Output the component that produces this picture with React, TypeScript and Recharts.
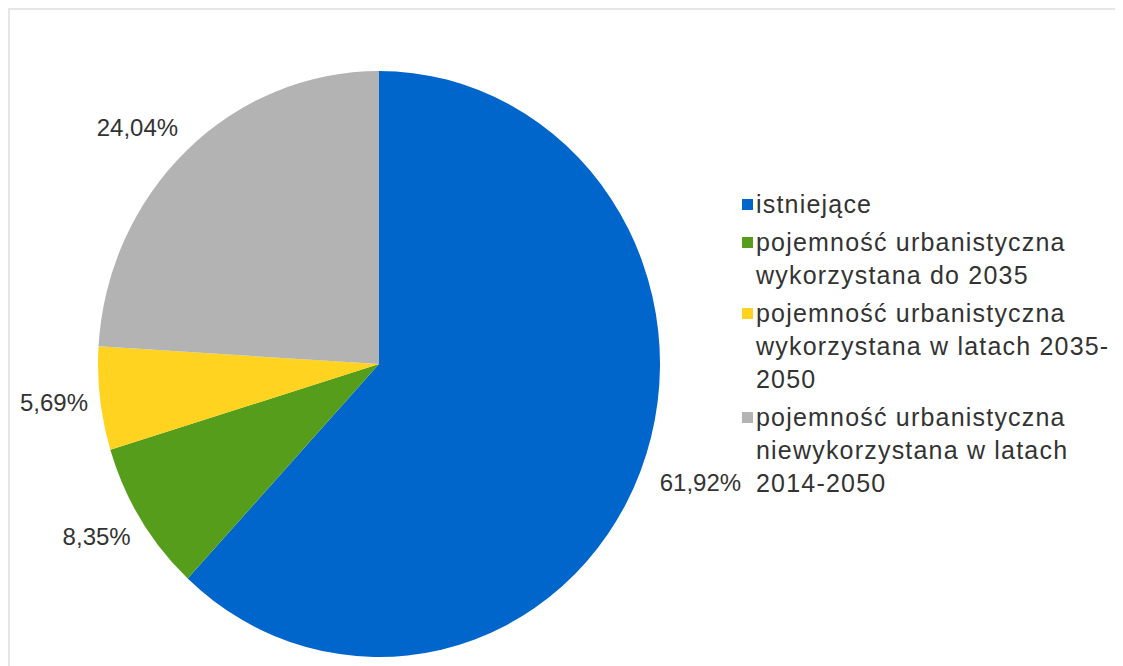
import { PieChart, Pie, Cell, Legend, Sector } from 'recharts';

const names = [
  'istniejące',
  'pojemność urbanistyczna\nwykorzystana do 2035',
  'pojemność urbanistyczna\nwykorzystana w latach 2035-\n2050',
  'pojemność urbanistyczna\nniewykorzystana w latach\n2014-2050',
];
const values = [61.92, 8.35, 5.69, 24.04];
const colors = ['#0066cc', '#579d1c', '#ffd320', '#b3b3b3'];

const data = names.map((name, i) => ({ name, value: values[i] }));

const RX = 281;
const SY = 293 / 281;
const FONT = '"Liberation Sans", Arial, sans-serif';

// pie in the reference is slightly stretched vertically
const EllipseSector = (props: any) => {
  const { cx, cy } = props;
  return (
    <g transform={`translate(${cx} ${cy}) scale(1 ${SY}) translate(${-cx} ${-cy})`}>
      <Sector {...props} />
    </g>
  );
};

const renderLabel = (props: any) => {
  const { cx, cy, midAngle, value } = props;
  const rad = (midAngle * Math.PI) / 180;
  const c = Math.cos(rad);
  const s = Math.sin(rad);
  const x = cx + 293 * c + (c >= 0 ? 8 : 0);
  const y = cy - 325 * s;
  return (
    <text
      x={x}
      y={y}
      textAnchor={c >= 0 ? 'start' : 'end'}
      dominantBaseline="central"
      fill="#333"
      fontSize={24}
      fontFamily={FONT}
    >
      {value.toFixed(2).replace('.', ',')}%
    </text>
  );
};

const renderLegend = () => (
  <div style={{ fontFamily: FONT, fontSize: 25, letterSpacing: 1.2, lineHeight: '33px', color: '#333' }}>
    {names.map((n, i) => (
      <div key={n} style={{ position: 'relative', paddingLeft: 14, marginBottom: 5, whiteSpace: 'pre-line' }}>
        <span
          style={{
            position: 'absolute',
            left: 0,
            top: 11,
            width: 11,
            height: 11,
            background: colors[i],
          }}
        />
        {n}
      </div>
    ))}
  </div>
);

export default function App() {
  return (
    <div
      style={{
        width: 1113,
        height: 656,
        borderTop: '2px solid #e6e6e6',
        borderLeft: '2px solid #e6e6e6',
        background: '#fff',
      }}
    >
      <PieChart width={1111} height={654} margin={{ top: 0, right: 0, bottom: 0, left: 0 }}>
        <Pie
          data={data}
          dataKey="value"
          nameKey="name"
          cx={369}
          cy={354}
          outerRadius={RX}
          startAngle={90}
          endAngle={-270}
          stroke="none"
          shape={EllipseSector}
          label={renderLabel}
          labelLine={false}
          isAnimationActive={false}
        >
          {data.map((d, i) => (
            <Cell key={d.name} fill={colors[i]} />
          ))}
        </Pie>
        <Legend
          content={renderLegend}
          layout="vertical"
          verticalAlign="top"
          align="right"
          wrapperStyle={{ left: 732, top: 178, width: 385 }}
        />
      </PieChart>
    </div>
  );
}
